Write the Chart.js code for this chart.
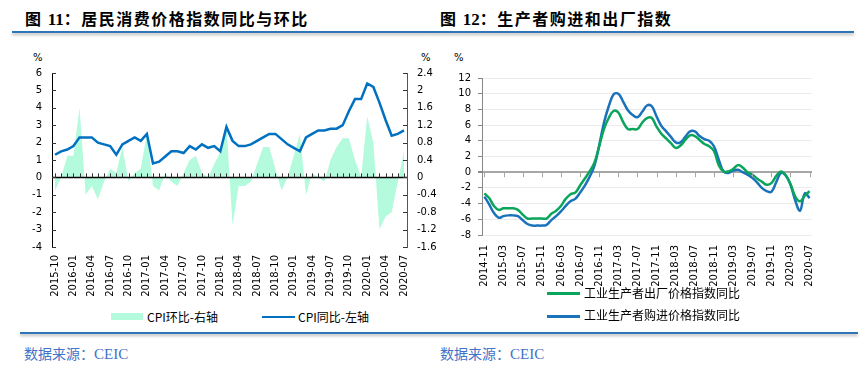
<!DOCTYPE html>
<html>
<head>
<meta charset="utf-8">
<script src="https://cdn.jsdelivr.net/npm/chart.js@4.4.1/dist/chart.umd.min.js"></script>
<style>
body { margin: 0; width: 864px; height: 367px; background: #fff; position: relative; overflow: hidden; font-family: "Noto Sans CJK SC", sans-serif; }
.abs { position: absolute; }
.title { font-size: 16px; font-weight: bold; letter-spacing: 1.5px; line-height: 18px; color: #000; white-space: nowrap; }
.title .num { font-family: "Liberation Serif", serif; font-size: 17px; letter-spacing: 0; }
.rule { height: 2px; background: #2e75b6; box-shadow: 0 2px 3px rgba(0,0,0,0.3); }
.src { font-size: 14px; line-height: 16px; color: #4472c4; white-space: nowrap; }
.src .en { font-family: "Liberation Serif", serif; font-size: 15px; }
.pct { font-family: "DejaVu Sans", sans-serif; font-size: 10px; line-height: 12px; }
.leg { font-size: 12px; line-height: 14px; color: #000; white-space: nowrap; }
</style>
</head>
<body>
<div class="abs title" style="left:25px;top:9px;">图 <span class="num">11</span>：居民消费价格指数同比与环比</div>
<div class="abs rule" style="left:12px;top:31px;width:420px;"></div>
<div class="abs title" style="left:440px;top:9px;">图 <span class="num">12</span>：生产者购进和出厂指数</div>
<div class="abs rule" style="left:432px;top:31px;width:422px;"></div>

<div class="abs pct" style="left:33px;top:52px;">%</div>
<div class="abs pct" style="left:421px;top:52px;">%</div>
<div class="abs pct" style="left:454px;top:52px;">%</div>

<canvas id="cpiChart" class="abs" width="445" height="260" style="left:0;top:40px;"></canvas>
<canvas id="ppiChart" class="abs" width="432" height="260" style="left:432px;top:40px;"></canvas>

<div class="abs" style="left:111px;top:313px;width:32px;height:7px;background:#b4fadc;"></div>
<div class="abs leg" style="left:147px;top:310px;">CPI环比-右轴</div>
<div class="abs" style="left:262px;top:316px;width:33px;height:2px;background:#0070c0;"></div>
<div class="abs leg" style="left:298px;top:310px;">CPI同比-左轴</div>

<div class="abs" style="left:547px;top:292px;width:33px;height:3px;background:#0aa55a;"></div>
<div class="abs leg" style="left:584px;top:286px;">工业生产者出厂价格指数同比</div>
<div class="abs" style="left:547px;top:315px;width:33px;height:3px;background:#1a72bb;"></div>
<div class="abs leg" style="left:584px;top:308px;">工业生产者购进价格指数同比</div>

<div class="abs rule" style="left:20px;top:332px;width:412px;"></div>
<div class="abs rule" style="left:432px;top:332px;width:426px;"></div>
<div class="abs src" style="left:24px;top:345px;">数据来源：<span class="en">CEIC</span></div>
<div class="abs src" style="left:440px;top:345px;">数据来源：<span class="en">CEIC</span></div>

<script>
// 月份标签
function monthRange(y, m, count) {
    const out = [];
    for (let i = 0; i < count; i++) {
        const mm = m - 1 + i;
        const yy = y + Math.floor(mm / 12);
        out.push(yy + "-" + String(mm % 12 + 1).padStart(2, "0"));
    }
    return out;
}

// 图11：2015-10 ~ 2020-07
const cpiMonths = monthRange(2015, 10, 58);
// CPI同比（左轴）
const cpiYoY = [
    1.3, 1.5, 1.6,
    1.8, 2.3, 2.3, 2.3, 2.0, 1.9, 1.8, 1.3, 1.9, 2.1, 2.3, 2.1,
    2.5, 0.8, 0.9, 1.2, 1.5, 1.5, 1.4, 1.8, 1.6, 1.9, 1.7, 1.8,
    1.5, 2.9, 2.1, 1.8, 1.8, 1.9, 2.1, 2.3, 2.5, 2.5, 2.2, 1.9,
    1.7, 1.5, 2.3, 2.5, 2.7, 2.7, 2.8, 2.8, 3.0, 3.8, 4.5, 4.5,
    5.4, 5.2, 4.3, 3.3, 2.4, 2.5, 2.7
];
// CPI环比（右轴）
const cpiMoM = [
    -0.3, 0.0, 0.5,
    0.5, 1.6, -0.4, -0.2, -0.5, -0.1, 0.2, 0.1, 0.7, -0.1, 0.1, 0.2,
    1.0, -0.2, -0.3, 0.1, -0.1, -0.2, 0.1, 0.4, 0.5, 0.1, 0.0, 0.3,
    0.6, 1.2, -1.1, -0.2, -0.2, -0.1, 0.3, 0.7, 0.7, 0.2, -0.3, 0.0,
    0.5, 1.0, -0.4, 0.1, 0.0, -0.1, 0.4, 0.7, 0.9, 0.9, 0.4, 0.0,
    1.4, 0.8, -1.2, -0.9, -0.8, -0.1, 0.6
];

// 图12：2014-11 ~ 2020-07
const ppiMonths = monthRange(2014, 11, 69);
// 工业生产者出厂价格指数同比
const ppiYoY = [
    -2.7, -3.3,
    -4.3, -4.8, -4.6, -4.6, -4.6, -4.8, -5.4, -5.9, -5.9, -5.9, -5.9, -5.9,
    -5.3, -4.9, -4.3, -3.4, -2.8, -2.6, -1.7, -0.8, 0.1, 1.2, 3.3, 5.5,
    6.9, 7.8, 7.6, 6.4, 5.5, 5.5, 5.5, 6.3, 6.9, 6.9, 5.8, 4.9,
    4.3, 3.7, 3.1, 3.4, 4.1, 4.7, 4.6, 4.1, 3.6, 3.3, 2.7, 0.9,
    0.1, 0.1, 0.4, 0.9, 0.6, 0.0, -0.3, -0.8, -1.2, -1.6, -1.4, -0.5,
    0.1, -0.4, -1.5, -3.1, -3.7, -3.0, -2.4
];
// 工业生产者购进价格指数同比
const ppirmYoY = [
    -3.1, -4.1,
    -5.2, -5.8, -5.6, -5.5, -5.5, -5.6, -6.1, -6.6, -6.8, -6.8, -6.8, -6.7,
    -6.1, -5.6, -5.0, -4.3, -3.7, -3.4, -2.6, -1.7, -0.6, 0.8, 3.4, 6.3,
    8.4, 9.9, 10.0, 9.0, 7.9, 7.3, 7.0, 7.7, 8.5, 8.4, 7.1, 5.9,
    5.2, 4.5, 3.8, 3.8, 4.5, 5.2, 5.2, 4.6, 4.2, 4.0, 3.3, 1.6,
    0.1, -0.1, 0.2, 0.3, 0.0, -0.3, -0.7, -1.3, -2.0, -2.4, -2.5, -1.3,
    -0.1, -0.4, -1.6, -3.6, -4.9, -2.7, -3.3
];

const tickFont = { family: "DejaVu Sans", size: 10 };

// 零轴、向内刻度（图11）
const cpiAxes = {
    id: "cpiAxes",
    afterDatasetsDraw(chart) {
        const { ctx, chartArea: a, scales: { x, y, y1 } } = chart;
        const y0 = y.getPixelForValue(0);
        ctx.save();
        ctx.strokeStyle = "#000";
        ctx.lineWidth = 1.5;
        ctx.beginPath();
        ctx.moveTo(a.left, y0);
        ctx.lineTo(a.right, y0);
        ctx.stroke();
        ctx.lineWidth = 1;
        ctx.strokeStyle = "#333";
        ctx.beginPath();
        for (let i = 0; i < cpiMonths.length; i++) {
            const px = Math.round(x.getPixelForValue(i)) + 0.5;
            ctx.moveTo(px, y0);
            ctx.lineTo(px, y0 - 4);
        }
        y.ticks.forEach(t => {
            const py = Math.round(y.getPixelForValue(t.value)) + 0.5;
            ctx.moveTo(a.left, py);
            ctx.lineTo(a.left + 4, py);
        });
        y1.ticks.forEach(t => {
            const py = Math.round(y1.getPixelForValue(t.value)) + 0.5;
            ctx.moveTo(a.right, py);
            ctx.lineTo(a.right - 4, py);
        });
        ctx.stroke();
        ctx.restore();
    }
};

// 零轴刻度（图12）
const ppiAxes = {
    id: "ppiAxes",
    afterDatasetsDraw(chart) {
        const { ctx, scales: { x, y } } = chart;
        const y0 = y.getPixelForValue(0);
        ctx.save();
        ctx.strokeStyle = "#a6a6a6";
        ctx.lineWidth = 1;
        ctx.beginPath();
        for (let i = 0; i < ppiMonths.length; i += 4) {
            const px = Math.round(x.getPixelForValue(i)) + 0.5;
            ctx.moveTo(px, y0);
            ctx.lineTo(px, y0 + 5);
        }
        ctx.stroke();
        ctx.restore();
    }
};

new Chart(document.getElementById("cpiChart"), {
    type: "line",
    data: {
        labels: cpiMonths,
        datasets: [
            {
                label: "CPI同比-左轴",
                data: cpiYoY,
                yAxisID: "y",
                borderColor: "#0070c0",
                borderWidth: 2.5,
                pointRadius: 0,
                tension: 0,
                fill: false
            },
            {
                label: "CPI环比-右轴",
                data: cpiMoM,
                yAxisID: "y1",
                borderWidth: 0,
                borderColor: "rgba(0,0,0,0)",
                backgroundColor: "#b4fadc",
                pointRadius: 0,
                tension: 0,
                fill: "origin"
            }
        ]
    },
    options: {
        responsive: false,
        animation: false,
        devicePixelRatio: 1,
        layout: { padding: { top: 33, left: 0, right: 0, bottom: 0 } },
        plugins: { legend: { display: false }, tooltip: { enabled: false } },
        scales: {
            x: {
                offset: true,
                grid: { display: false, drawTicks: false },
                border: { display: false },
                ticks: {
                    autoSkip: false,
                    minRotation: 90,
                    maxRotation: 90,
                    padding: 8,
                    color: "#000",
                    font: tickFont,
                    callback(v, i) { return i % 3 === 0 ? this.getLabelForValue(v) : ""; }
                },
                afterFit(s) { s.height = 53; }
            },
            y: {
                position: "left",
                min: -4,
                max: 6,
                ticks: { stepSize: 1, padding: 10, color: "#000", font: tickFont },
                grid: { display: false, drawTicks: false },
                border: { color: "#000", width: 1 },
                afterFit(s) { s.width = 52; }
            },
            y1: {
                position: "right",
                min: -1.6,
                max: 2.4,
                ticks: {
                    stepSize: 0.4,
                    padding: 10,
                    color: "#000",
                    font: tickFont,
                    callback: v => String(Math.round(v * 10) / 10)
                },
                grid: { display: false, drawTicks: false },
                border: { color: "#555", width: 1 },
                afterFit(s) { s.width = 38; }
            }
        }
    },
    plugins: [cpiAxes]
});

new Chart(document.getElementById("ppiChart"), {
    type: "line",
    data: {
        labels: ppiMonths,
        datasets: [
            {
                label: "工业生产者出厂价格指数同比",
                data: ppiYoY,
                borderColor: "#0aa55a",
                borderWidth: 2.5,
                pointRadius: 0,
                tension: 0.4
            },
            {
                label: "工业生产者购进价格指数同比",
                data: ppirmYoY,
                borderColor: "#1a72bb",
                borderWidth: 2.5,
                pointRadius: 0,
                tension: 0.4
            }
        ]
    },
    options: {
        responsive: false,
        animation: false,
        devicePixelRatio: 1,
        layout: { padding: { top: 38, left: 0, right: 52, bottom: 0 } },
        plugins: { legend: { display: false }, tooltip: { enabled: false } },
        scales: {
            x: {
                offset: true,
                grid: { display: false, drawTicks: false },
                border: { display: false },
                ticks: {
                    autoSkip: false,
                    minRotation: 90,
                    maxRotation: 90,
                    padding: 10,
                    color: "#000",
                    font: tickFont,
                    callback(v, i) { return i % 4 === 0 ? this.getLabelForValue(v) : ""; }
                },
                afterFit(s) { s.height = 65; }
            },
            y: {
                min: -8,
                max: 12,
                ticks: { stepSize: 2, padding: 7, color: "#000", font: tickFont },
                grid: {
                    color: c => (c.tick && c.tick.value === 0) ? "#a6a6a6" : "#ebebeb",
                    lineWidth: c => (c.tick && c.tick.value === 0) ? 2 : 1,
                    tickLength: 4,
                    tickColor: "#888"
                },
                border: { color: "#888", width: 1 },
                afterFit(s) { s.width = 50; }
            }
        }
    },
    plugins: [ppiAxes]
});
</script>
</body>
</html>
